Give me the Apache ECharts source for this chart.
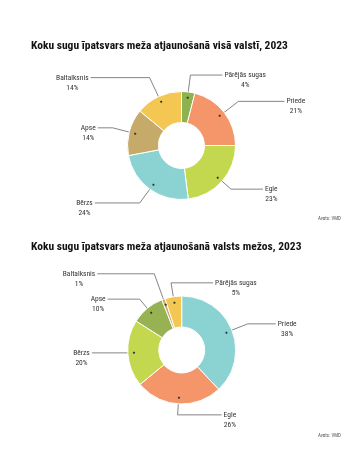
<!DOCTYPE html>
<html>
<head>
<meta charset="utf-8">
<script src="https://cdn.jsdelivr.net/npm/echarts@6/dist/echarts.min.js"></script>
<style>
html,body{margin:0;padding:0;background:#fff;}
#c{width:358px;height:471px;}
</style>
</head>
<body>
<div id="c"></div>
<script>
// ---- data ----
const title1 = 'Koku sugu īpatsvars meža atjaunošanā visā valstī, 2023';
const title2 = 'Koku sugu īpatsvars meža atjaunošanā valsts mežos, 2023';
const source = 'Avots: VMD';
const cats1 = ['Pārējās sugas', 'Priede', 'Egle', 'Bērzs', 'Apse', 'Baltalksnis'];
const vals1 = [4, 21, 23, 24, 14, 14];
const cats2 = ['Priede', 'Egle', 'Bērzs', 'Apse', 'Baltalksnis', 'Pārējās sugas'];
const vals2 = [38, 26, 20, 10, 1, 5];

// ---- styles ----
const colors1 = ['#8db24f', '#f4966a', '#c4d84f', '#8bd2d3', '#c6aa6a', '#f4c752'];
const colors2 = ['#8bd2d3', '#f4966a', '#c4d84f', '#97b253', '#c6aa6a', '#f4c752'];
// label leader geometry (radial length, horizontal length, side)
const lead1 = { len: [26, 27, 21, 26, 26, 30], len2: [32, 46, 32, 45, 15, 59], dir: [1, 1, 1, -1, -1, -1] };
const lead2 = { len: [26, 20, 1, 21, 36, 23], len2: [28, 44, 44, 32, 57, 42], dir: [1, 1, -1, -1, -1, 1] };

const FONT = "'Liberation Sans Narrow', 'Roboto Condensed', Roboto, sans-serif";
const R_IN = 23, R_OUT = 54, R_DOT = 45;

function pieSeries(cats, vals, colors, center, lead) {
  const data = cats.map((n, i) => ({ name: n, value: vals[i], itemStyle: { color: colors[i] } }));
  return [{
    type: 'pie',
    center: center,
    radius: [R_IN, R_OUT],
    startAngle: 90,
    clockwise: true,
    avoidLabelOverlap: false,
    animation: false,
    silent: true,
    itemStyle: { borderColor: '#fff', borderWidth: 1 },
    label: {
      show: true,
      position: 'outside',
      formatter: p => '{n|' + p.name + '}\n{n|' + p.value + '%}',
      rich: { n: { align: 'center', fontSize: 7.5, lineHeight: 10, color: '#333', fontFamily: FONT } }
    },
    labelLine: { show: true, length: 10, length2: 10, lineStyle: { color: '#666', width: 0.8 } },
    labelLayout: function (params) {
      const pts = params.labelLinePoints;
      if (!pts) return {};
      const i = params.dataIndex;
      let dx = pts[1][0] - pts[0][0], dy = pts[1][1] - pts[0][1];
      const l = Math.hypot(dx, dy) || 1; dx /= l; dy /= l;
      const inset = R_OUT - R_DOT;
      const p0 = [pts[0][0] - dx * inset, pts[0][1] - dy * inset];
      const p1 = [p0[0] + dx * lead.len[i], p0[1] + dy * lead.len[i]];
      const p2 = [p1[0] + lead.dir[i] * lead.len2[i], p1[1]];
      return {
        x: p2[0] + lead.dir[i] * 2,
        y: p2[1] - 5,
        align: lead.dir[i] > 0 ? 'left' : 'right',
        verticalAlign: 'top',
        labelLinePoints: [p0, p1, p2]
      };
    },
    data: data
  }, {
    type: 'pie',
    center: center,
    radius: [R_DOT * 2 - R_OUT, R_OUT],
    startAngle: 90,
    clockwise: true,
    animation: false,
    silent: true,
    itemStyle: { color: 'rgba(0,0,0,0)' },
    label: { show: true, position: 'inside', formatter: '●', fontSize: 5, color: '#333' },
    labelLine: { show: false },
    data: cats.map((n, i) => ({ name: n, value: vals[i] }))
  }];
}

const chart = echarts.init(document.getElementById('c'), null, { renderer: 'canvas' });
chart.setOption({
  backgroundColor: '#fff',
  title: [
    { text: title1, left: 26, top: 35, textStyle: { fontFamily: FONT, fontWeight: 'bold', fontSize: 11.5, lineHeight: 13, color: '#111' } },
    { text: title2, left: 26, top: 236, textStyle: { fontFamily: FONT, fontWeight: 'bold', fontSize: 11.5, lineHeight: 13, color: '#111' } },
    { text: source, left: 313, top: 211, textStyle: { fontFamily: FONT, fontWeight: 'normal', fontSize: 5, lineHeight: 6, color: '#555' } },
    { text: source, left: 313, top: 428, textStyle: { fontFamily: FONT, fontWeight: 'normal', fontSize: 5, lineHeight: 6, color: '#555' } }
  ],
  series: [].concat(
    pieSeries(cats1, vals1, colors1, [181.5, 145.5], lead1),
    pieSeries(cats2, vals2, colors2, [181.7, 350], lead2)
  )
});
</script>
</body>
</html>
